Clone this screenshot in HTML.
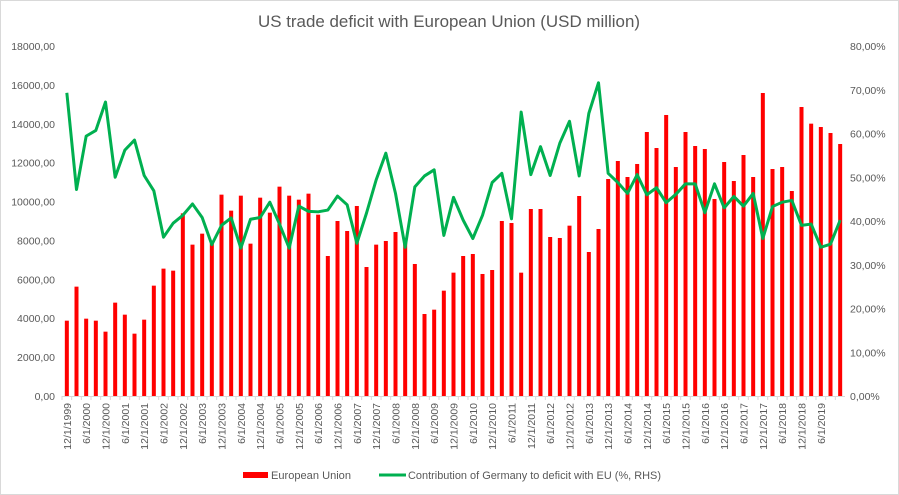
<!DOCTYPE html>
<html><head><meta charset="utf-8"><style>
body{margin:0;background:#fff}
svg{display:block;font-family:"Liberation Sans",sans-serif}
</style></head><body>
<svg id="chart" width="899" height="495" viewBox="0 0 899 495">
<rect x="0.5" y="0.5" width="898" height="494" fill="#fff" stroke="#d9d9d9"/>
<text x="449" y="27" text-anchor="middle" font-size="17" fill="#595959" textLength="382" lengthAdjust="spacingAndGlyphs">US trade deficit with European Union (USD million)</text>
<g id="grid"></g><g id="bars"></g><g id="line"></g><g id="axes"></g>
<g>
<rect x="243" y="472" width="25" height="6" fill="#ff0000"/>
<text x="271" y="479" font-size="11" fill="#595959" textLength="80" lengthAdjust="spacingAndGlyphs">European Union</text>
<line x1="379" y1="475" x2="406" y2="475" stroke="#00b050" stroke-width="3"/>
<text x="408" y="479" font-size="11" fill="#595959" textLength="253" lengthAdjust="spacingAndGlyphs">Contribution of Germany to deficit with EU (%, RHS)</text>
</g>
</svg>
<script>
const euDeficit=[3874,5624,3977,3874,3309,4801,4183,3206,3926,5675,6550,6446,9394,7784,8349,7850,10355,9532,10303,7835,10200,9429,10766,10303,10097,10406,9326,
7200,9000,8486,9772,6634,7784,7972,8434,7900,6789,4217,4440,5417,6343,7200,7303,6275,6480,9000,8897,6343,9617,9617,8177,8126,8760,
10286,7406,8589,11160,12086,11263,11932,13577,12754,14452,11777,13577,12857,12703,10132,12034,11057,12394,11263,15583,11674,11777,10543,14863,14006,13834,13526,12960];
const germanyShare=[69.3,47.2,59.4,60.7,67.2,50.0,56.2,58.5,50.4,46.9,36.3,39.5,41.3,43.9,40.8,34.6,39.0,40.7,33.8,40.4,40.8,44.3,39.3,33.8,43.4,42.2,42.1,
42.5,45.7,43.7,34.9,41.8,49.4,55.5,46.3,34.0,47.8,50.3,51.7,36.7,45.4,40.2,36.0,41.3,48.8,50.9,40.5,64.9,50.6,57.0,50.4,57.8,62.8,
50.3,64.6,71.6,50.9,48.8,46.3,50.6,46.0,47.6,44.2,46.1,48.5,48.5,41.9,48.5,43.0,45.6,43.4,46.3,36.0,43.3,44.3,44.7,39.0,39.3,34.0,34.7,40.2];
const leftTicks=[0,2000,4000,6000,8000,10000,12000,14000,16000,18000];
const rightTicks=[0,10,20,30,40,50,60,70,80];
const quarterMonths=[12,3,6,9];
const startYear=1999;

const NS="http://www.w3.org/2000/svg";
const L=62,R=845,T=46,B=396;
const n=euDeficit.length, band=(R-L)/n;
const xC=i=>L+band*(i+0.5);
const yL=v=>B-(v/18000)*(B-T);
const yR=v=>B-(v/80)*(B-T);
function mk(tag,attrs,parent){const e=document.createElementNS(NS,tag);for(const k in attrs)e.setAttribute(k,attrs[k]);parent.appendChild(e);return e;}
const fmt=v=>v.toFixed(2).replace('.',',');
const grid=document.getElementById('grid'),bars=document.getElementById('bars'),line=document.getElementById('line'),axes=document.getElementById('axes');
leftTicks.forEach(v=>{
  const t=mk('text',{x:55,y:yL(v)+4,'text-anchor':'end','font-size':10.5,fill:'#595959'},axes);
  
  
  t.textContent=fmt(v);
});
rightTicks.forEach(v=>{
  const t=mk('text',{x:850,y:yR(v)+4,'font-size':10.5,fill:'#595959'},axes);
  
  
  t.textContent=v.toFixed(2).replace('.',',')+'%';
});
const ax=mk('line',{x1:L,y1:B+0.5,x2:R,y2:B+0.5,stroke:'#d9d9d9'},axes);


euDeficit.forEach((v,i)=>{
  const r=mk('rect',{x:xC(i)-2,y:yL(v),width:4,height:B-yL(v),fill:'#ff0000'},bars);
  
  
  mk('line',{x1:L+band*i,y1:B,x2:L+band*i,y2:B+4,stroke:'#d9d9d9'},axes);
  if(i%2===0 && i<n-1){
    const q=i%4, yr=startYear+Math.floor((i+3)/4);
    const lbl=quarterMonths[q]+'/1/'+yr;
    const t=mk('text',{transform:`translate(${xC(i)+4},${B+7}) rotate(-90)`,'text-anchor':'end','font-size':10.5,fill:'#595959'},axes);
    
    
    t.textContent=lbl;
  }
});
const p=mk('polyline',{points:germanyShare.map((v,i)=>xC(i)+','+yR(v)).join(' '),fill:'none',stroke:'#00b050','stroke-width':3,'stroke-linejoin':'round'},line);


</script>
</body></html>
